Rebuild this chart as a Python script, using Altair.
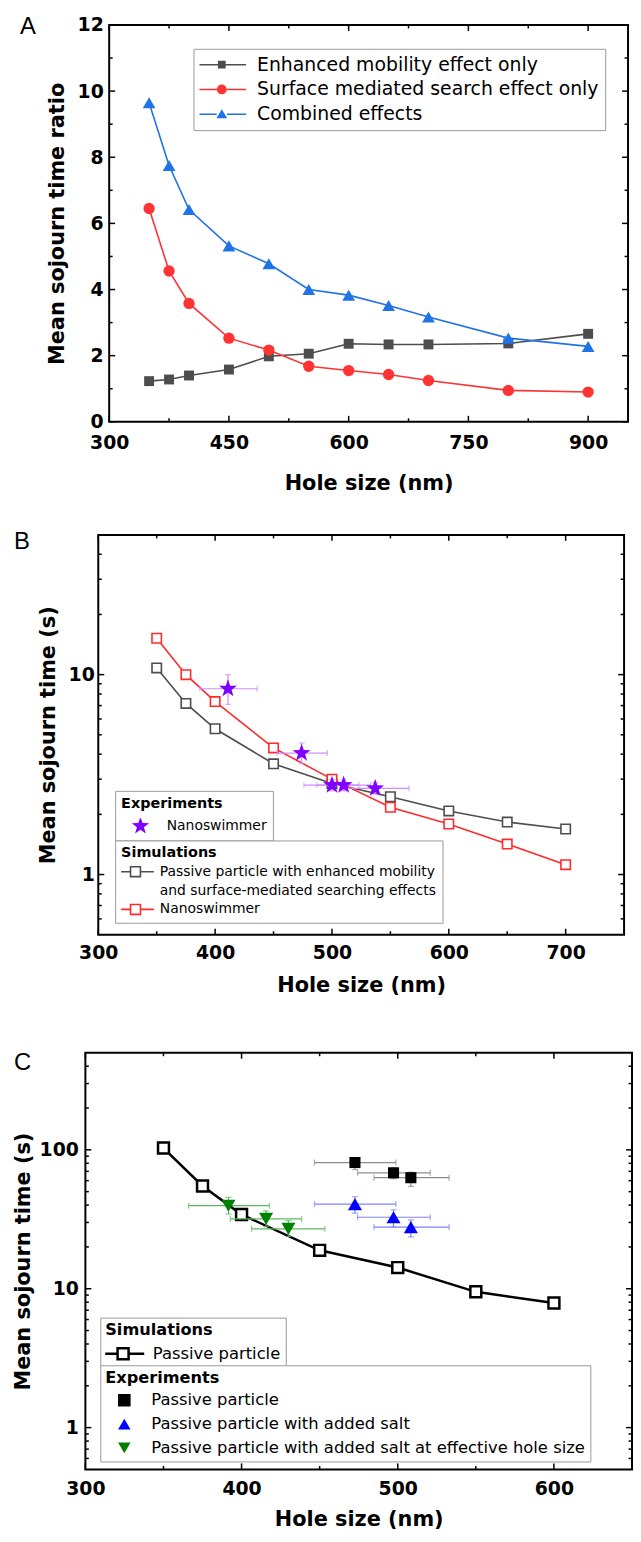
import altair as alt
import pandas as pd

# ---------------- data ----------------
PANEL_LABELS = ["A", "B", "C"]
X_TITLE = "Hole size (nm)"

# Panel A
A_hole = [350, 375, 400, 450, 500, 550, 600, 650, 700, 800, 900]
A_series = ["Enhanced mobility effect only", "Surface mediated search effect only", "Combined effects"]
A_mobility = [1.23, 1.28, 1.40, 1.58, 1.98, 2.06, 2.36, 2.34, 2.34, 2.37, 2.66]
A_surface = [6.45, 4.56, 3.58, 2.53, 2.17, 1.68, 1.55, 1.43, 1.25, 0.95, 0.90]
A_combined = [9.65, 7.75, 6.42, 5.32, 4.78, 4.00, 3.83, 3.52, 3.17, 2.53, 2.28]
A_y_title = "Mean sojourn time ratio"
A_x_labels = [300, 450, 600, 750, 900]
A_x_minor = [375, 525, 675, 825]
A_y_labels = [0, 2, 4, 6, 8, 10, 12]
A_y_minor = [1, 3, 5, 7, 9, 11]

# Panel B
B_hole = [350, 375, 400, 450, 500, 550, 600, 650, 700]
B_passive = [10.8, 7.18, 5.36, 3.58, 2.85, 2.45, 2.08, 1.83, 1.69]
B_swimmer = [15.2, 10.0, 7.33, 4.30, 3.00, 2.17, 1.79, 1.42, 1.12]
B_sim_names = ["Passive particle with enhanced mobility",
               "and surface-mediated searching effects",
               "Nanoswimmer"]
B_exp_name = "Nanoswimmer"
B_exp_hole = [411, 474, 500, 510, 537]
B_exp_hole_lo = [387, 453, 476, 487, 511]
B_exp_hole_hi = [436, 496, 523, 533, 566]
B_exp_time = [8.5, 4.05, 2.8, 2.8, 2.7]
B_exp_time_lo = [7.1, 3.6, 2.62, 2.62, 2.53]
B_exp_time_hi = [10.0, 4.55, 2.98, 2.98, 2.88]
B_y_title = "Mean sojourn time (s)"
B_x_labels = [300, 400, 500, 600, 700]
B_x_minor = [350, 450, 550, 650]
B_y_labels = [1, 10]
B_y_minor = [0.6, 0.7, 0.8, 0.9, 2, 3, 4, 5, 6, 7, 8, 9, 20, 30, 40]

# Panel C
C_sim_name = "Passive particle"
C_hole = [350, 375, 400, 450, 500, 550, 600]
C_time = [103, 54.9, 34.2, 18.9, 14.2, 9.5, 7.9]
C_exp_names = ["Passive particle",
               "Passive particle with added salt",
               "Passive particle with added salt at effective hole size"]
C_exp_hole = [[472.6, 497.3, 508.4], [472.6, 497.3, 508.4], [391.6, 415.7, 430.0]]
C_exp_hole_lo = [[446.7, 474.3, 484.8], [446.7, 474.3, 484.8], [366.1, 392.8, 406.4]]
C_exp_hole_hi = [[498.8, 520.8, 532.9], [498.8, 520.8, 532.9], [417.8, 438.5, 453.4]]
C_exp_time = [[81.0, 68.3, 63.0], [40.7, 32.7, 27.8], [39.6, 31.8, 27.0]]
C_exp_time_lo = [[72.0, 62.0, 54.5], [35.0, 27.9, 23.6], [34.5, 28.0, 23.8]]
C_exp_time_hi = [[88.0, 74.5, 69.0], [46.0, 37.0, 31.3], [45.5, 36.4, 30.9]]
C_x_labels = [300, 400, 500, 600]
C_x_minor = [350, 450, 550]
C_y_labels = [1, 10, 100]
C_y_minor = [0.6, 0.7, 0.8, 0.9, 2, 3, 4, 5, 6, 7, 8, 9,
             20, 30, 40, 50, 60, 70, 80, 90, 200, 300, 400]

# ---------------- styles ----------------
FONT = "DejaVu Sans"
LETTER_FONT = "Liberation Sans"
A_colors = ["#4d4d4d", "#ff3333", "#1f73e6"]
A_shapes = ["square", "circle", "triangle-up"]
A_sizes = [100, 130, 165]
B_colors = ["#4d4d4d", "#ff2a2a"]
B_star_color = "#8000ff"
B_err_color = "#cf8cff"
C_colors = ["#000000", "#0000ff", "#008000"]
C_err_colors = ["#8c8c8c", "#8080ff", "#5cb85c"]
C_shapes = ["square", "triangle-up", "triangle-down"]
C_sizes = [125, 200, 200]

STAR = ("M0,-1L0.235,-0.324L0.951,-0.309L0.380,0.124L0.588,0.809L0,0.4"
        "L-0.588,0.809L-0.380,0.124L-0.951,-0.309L-0.235,-0.324Z")
SEG = "M-1,-0.031H-{r}V0.031H-1Z M{r},-0.031H1V0.031H{r}Z "
A_leg_paths = [
    SEG.format(r=0.16) + "M-0.16,-0.16H0.16V0.16H-0.16Z",
    SEG.format(r=0.2) + "M-0.2,0A0.2,0.2 0 1,1 0.2,0A0.2,0.2 0 1,1 -0.2,0Z",
    SEG.format(r=0.21) + "M0,-0.21L0.22,0.16H-0.22Z",
]
B_sim_path = "M-1,0H-0.27M-0.27,-0.27H0.27V0.27H-0.27ZM0.27,0H1"
C_sim_path = "M-1,0H-0.26M-0.26,-0.26H0.26V0.26H-0.26ZM0.26,0H1"

W_A, H_A = 523, 400
W_B, H_B = 530, 403
W_C, H_C = 551, 420


def X(f, s):
    return alt.X(f"{f}:Q", scale=s, axis=None)


def Y(f, s):
    return alt.Y(f"{f}:Q", scale=s, axis=None)


def frame_layers(df, xf, yf, xs, ys, w, h, x_labels, x_minor, y_labels, y_minor,
                 y_title, x_lp, x_tp, y_lp, y_tp):
    lab = dict(labelFont=FONT, labelFontSize=19, labelFontWeight="bold", labelColor="black",
               titleFont=FONT, titleFontSize=21, titleFontWeight="bold", titleColor="black",
               ticks=False, domain=False, grid=False, labelFlush=False, labelOverlap=False,
               format="d")
    main = alt.Chart(df).mark_point(opacity=0).encode(
        x=alt.X(f"{xf}:Q", scale=xs, axis=alt.Axis(orient="bottom", values=x_labels, title=X_TITLE,
                                                   labelPadding=x_lp, titlePadding=x_tp, **lab)),
        y=alt.Y(f"{yf}:Q", scale=ys, axis=alt.Axis(orient="left", values=y_labels, title=y_title,
                                                   labelPadding=y_lp, titlePadding=y_tp, **lab)),
    )
    layers = [main]
    # inward frame ticks (major and minor) on all four sides
    for vals, L in ((x_labels, 6), (x_minor, 3.5)):
        d = alt.Chart(pd.DataFrame({"v": vals}))
        for yy in (L / 2, h - L / 2):
            layers.append(d.mark_tick(orient="vertical", size=L, thickness=1.5, color="black",
                                      opacity=1)
                          .encode(x=alt.X("v:Q", scale=xs, axis=None), y=alt.value(yy)))
    for vals, L in ((y_labels, 6), (y_minor, 3.5)):
        d = alt.Chart(pd.DataFrame({"v": vals}))
        for xx in (L / 2, w - L / 2):
            layers.append(d.mark_tick(orient="horizontal", size=L, thickness=1.5, color="black",
                                      opacity=1)
                          .encode(y=alt.Y("v:Q", scale=ys, axis=None), x=alt.value(xx)))
    return layers


def letter(i, dx, dy):
    return alt.Chart(pd.DataFrame({"label": [PANEL_LABELS[i]]})).mark_text(
        align="left", baseline="middle", font=LETTER_FONT, fontSize=24, color="black"
    ).encode(text="label:N", x=alt.value(dx), y=alt.value(dy))


def legend(**kw):
    base = dict(orient="none", direction="vertical", labelFont=FONT, labelColor="black",
                labelLimit=900, titleFont=FONT, titleFontWeight="bold", titleColor="black",
                titleLimit=900, symbolOpacity=1, strokeColor="#9a9a9a", fillColor="white",
                cornerRadius=0)
    base.update(kw)
    return alt.Legend(**base)


def spacer(w):
    return alt.Chart(pd.DataFrame({"z": [0]})).mark_point(opacity=0, size=1).properties(
        width=w, height=1, view=alt.ViewBackground(stroke="transparent"))


def indep(c):
    return c.resolve_scale(color="independent", shape="independent", stroke="independent")


# ================= Panel A =================
dfA = pd.DataFrame({
    "hole": A_hole * 3,
    "ratio": A_mobility + A_surface + A_combined,
    "series": [s for s in A_series for _ in A_hole],
})
xA = alt.Scale(domain=[300, 950], nice=False, zero=False)
yA = alt.Scale(domain=[0, 12], nice=False, zero=False)
layersA = frame_layers(dfA, "hole", "ratio", xA, yA, W_A, H_A, A_x_labels, A_x_minor,
                       A_y_labels, A_y_minor, A_y_title, 12, 20, 6, 10)
for s, c in zip(A_series, A_colors):
    layersA.append(alt.Chart(dfA).transform_filter(alt.datum.series == s)
                   .mark_line(color=c, strokeWidth=1.6)
                   .encode(x=X("hole", xA), y=Y("ratio", yA)))
for s, c, shp, sz in zip(A_series, A_colors, A_shapes, A_sizes):
    layersA.append(alt.Chart(dfA).transform_filter(alt.datum.series == s)
                   .mark_point(shape=shp, size=sz, filled=True, color=c, opacity=1)
                   .encode(x=X("hole", xA), y=Y("ratio", yA)))
legA = legend(title=None, legendX=85, legendY=24, labelFontSize=19, labelOffset=11,
              symbolSize=2401, symbolOffset=-2, symbolStrokeWidth=0, clipHeight=20,
              rowPadding=5, padding=6)
layersA.append(alt.Chart(dfA).mark_point(filled=True, opacity=0).encode(
    x=X("hole", xA), y=Y("ratio", yA),
    color=alt.Color("series:N", scale=alt.Scale(domain=A_series, range=A_colors), legend=legA),
    shape=alt.Shape("series:N", scale=alt.Scale(domain=A_series, range=A_leg_paths), legend=legA),
))
layersA.append(letter(0, -90, 2))
chartA = alt.layer(*layersA).resolve_axis(x="independent", y="independent").properties(
    width=W_A, height=H_A)

# ================= Panel B =================
dfB = pd.DataFrame({
    "hole": B_hole * 2,
    "time": B_passive + B_swimmer,
    "sim": [B_sim_names[0]] * len(B_hole) + [B_sim_names[2]] * len(B_hole),
})
dfBe = pd.DataFrame({
    "hole": B_exp_hole, "hlo": B_exp_hole_lo, "hhi": B_exp_hole_hi,
    "time": B_exp_time, "tlo": B_exp_time_lo, "thi": B_exp_time_hi,
    "exp": [B_exp_name] * len(B_exp_hole),
})
xB = alt.Scale(domain=[300, 750], nice=False, zero=False)
yB = alt.Scale(type="log", domain=[0.5, 50], nice=False)
layersB = frame_layers(dfB, "hole", "time", xB, yB, W_B, H_B, B_x_labels, B_x_minor,
                       B_y_labels, B_y_minor, B_y_title, 9, 12, 4, 10)
for s, c in zip([B_sim_names[0], B_sim_names[2]], B_colors):
    layersB.append(alt.Chart(dfB).transform_filter(alt.datum.sim == s)
                   .mark_line(color=c, strokeWidth=1.6)
                   .encode(x=X("hole", xB), y=Y("time", yB)))
for s, c in zip([B_sim_names[0], B_sim_names[2]], B_colors):
    layersB.append(alt.Chart(dfB).transform_filter(alt.datum.sim == s)
                   .mark_point(shape="square", size=90, filled=True, fill="white", stroke=c,
                               strokeWidth=1.6, opacity=1)
                   .encode(x=X("hole", xB), y=Y("time", yB)))
layersB.append(alt.Chart(dfBe).mark_errorbar(ticks=True, size=6, thickness=1.2, color=B_err_color)
               .encode(x=X("hlo", xB), x2="hhi:Q", y=Y("time", yB)))
layersB.append(alt.Chart(dfBe).mark_errorbar(ticks=True, size=6, thickness=1.2, color=B_err_color)
               .encode(x=X("hole", xB), y=Y("tlo", yB), y2="thi:Q"))
legBexp = legend(title="Experiments", legendX=17, legendY=258, titleFontSize=14.5, titlePadding=7,
                 labelFontSize=14, labelOffset=17, symbolSize=340, symbolOffset=10,
                 symbolStrokeWidth=0, clipHeight=16, padding=6)
layersB.append(alt.Chart(dfBe).mark_point(filled=True, size=360, color=B_star_color, opacity=1)
               .encode(x=X("hole", xB), y=Y("time", yB),
                       shape=alt.Shape("exp:N", scale=alt.Scale(domain=[B_exp_name], range=[STAR]),
                                       legend=legBexp)))
legBsim = legend(title="Simulations", legendX=17, legendY=308, titleFontSize=14.5, titlePadding=4,
                 labelFontSize=14, labelOffset=5, symbolSize=1369, symbolOffset=-5,
                 symbolStrokeWidth=1.6, symbolFillColor="white", clipHeight=14, rowPadding=5,
                 padding=6)
layersB.append(alt.Chart(dfB).mark_point(shape=B_sim_path, filled=False, opacity=0)
               .encode(x=X("hole", xB), y=Y("time", yB),
                       stroke=alt.Stroke("sim:N", scale=alt.Scale(domain=B_sim_names,
                                                                  range=[B_colors[0], "transparent", B_colors[1]]),
                                         legend=legBsim)))
layersB.append(letter(1, -85, 7))
chartB = alt.layer(*layersB).resolve_axis(x="independent", y="independent").properties(
    width=W_B, height=H_B)

# ================= Panel C =================
dfC = pd.DataFrame({"hole": C_hole, "time": C_time, "sim": [C_sim_name] * len(C_hole)})
rows = []
for name, h, hl, hh, t, tl, th in zip(C_exp_names, C_exp_hole, C_exp_hole_lo, C_exp_hole_hi,
                                       C_exp_time, C_exp_time_lo, C_exp_time_hi):
    for k in range(len(h)):
        rows.append({"exp": name, "hole": h[k], "hlo": hl[k], "hhi": hh[k],
                     "time": t[k], "tlo": tl[k], "thi": th[k]})
dfCe = pd.DataFrame(rows)
xC = alt.Scale(domain=[300, 650], nice=False, zero=False)
yC = alt.Scale(type="log", domain=[0.5, 500], nice=False)
layersC = frame_layers(dfC, "hole", "time", xC, yC, W_C, H_C, C_x_labels, C_x_minor,
                       C_y_labels, C_y_minor, B_y_title, 10, 11, 7, 6)
layersC.append(alt.Chart(dfC).mark_line(color="black", strokeWidth=2.5)
               .encode(x=X("hole", xC), y=Y("time", yC)))
layersC.append(alt.Chart(dfC).mark_point(shape="square", size=121, filled=True, fill="white",
                                         stroke="black", strokeWidth=2.5, opacity=1)
               .encode(x=X("hole", xC), y=Y("time", yC)))
for name, ec in zip(C_exp_names, C_err_colors):
    sub = alt.Chart(dfCe).transform_filter(alt.datum.exp == name)
    layersC.append(sub.mark_errorbar(ticks=True, size=6, thickness=1.2, color=ec)
                   .encode(x=X("hlo", xC), x2="hhi:Q", y=Y("time", yC)))
    layersC.append(sub.mark_errorbar(ticks=True, size=6, thickness=1.2, color=ec)
                   .encode(x=X("hole", xC), y=Y("tlo", yC), y2="thi:Q"))
for name, c, shp, sz in zip(C_exp_names, C_colors, C_shapes, C_sizes):
    layersC.append(alt.Chart(dfCe).transform_filter(alt.datum.exp == name)
                   .mark_point(shape=shp, size=sz, filled=True, color=c, opacity=1)
                   .encode(x=X("hole", xC), y=Y("time", yC)))
legCsim = legend(title="Simulations", legendX=15, legendY=267, titleFontSize=16.3, titlePadding=7,
                 labelFontSize=16.5, labelOffset=7, symbolSize=1815, symbolOffset=-5,
                 symbolStrokeWidth=2.5, symbolFillColor="white", clipHeight=16, padding=5)
layersC.append(alt.Chart(dfC).mark_point(shape=C_sim_path, filled=False, opacity=0)
               .encode(x=X("hole", xC), y=Y("time", yC),
                       stroke=alt.Stroke("sim:N", scale=alt.Scale(domain=[C_sim_name], range=["black"]),
                                         legend=legCsim)))
legCexp = legend(title="Experiments", legendX=15, legendY=315, titleFontSize=16.3, titlePadding=6,
                 labelFontSize=16.5, labelOffset=19, symbolSize=160, symbolOffset=11,
                 symbolStrokeWidth=0, clipHeight=16, rowPadding=7, padding=5)
layersC.append(alt.Chart(dfCe).mark_point(filled=True, opacity=0)
               .encode(x=X("hole", xC), y=Y("time", yC),
                       color=alt.Color("exp:N", scale=alt.Scale(domain=C_exp_names, range=C_colors),
                                       legend=legCexp),
                       shape=alt.Shape("exp:N", scale=alt.Scale(domain=C_exp_names, range=C_shapes),
                                       legend=legCexp)))
layersC.append(letter(2, -72, 10))
chartC = alt.layer(*layersC).resolve_axis(x="independent", y="independent").properties(
    width=W_C, height=H_C)

rowA = indep(alt.hconcat(spacer(9), chartA, spacing=0))
rowB = indep(alt.hconcat(spacer(3), chartB, spacing=0))
rowC = indep(alt.hconcat(spacer(1), chartC, spacing=0))
top = indep(alt.vconcat(rowA, rowB, spacing=35))
chart = indep(alt.vconcat(top, rowC, spacing=54)).properties(
    padding=0
).configure_view(stroke="black", strokeWidth=2)

chart.save("out.html", embed_options={"renderer": "svg", "actions": False})
